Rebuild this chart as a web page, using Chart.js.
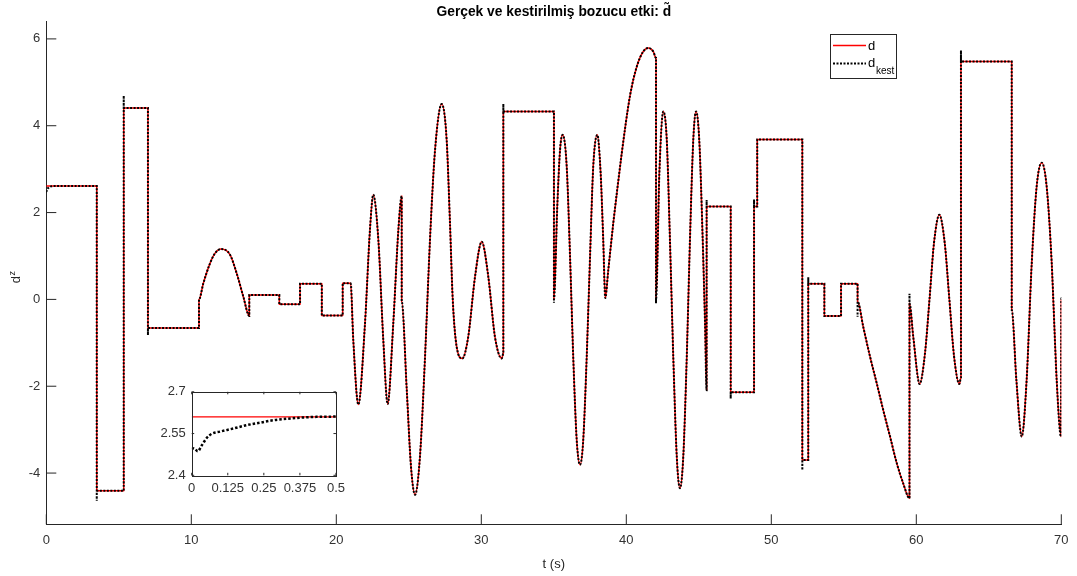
<!DOCTYPE html>
<html>
<head>
<meta charset="utf-8">
<script src="https://cdn.jsdelivr.net/npm/chart.js@4.4.1/dist/chart.umd.min.js"></script>
<style>
  body { margin: 0; background: #fff; }
  #wrap { position: relative; width: 1077px; height: 576px; }
  #main { position: absolute; left: 0; top: 0; }
  #inset { position: absolute; left: 150px; top: 378px; }
</style>
</head>
<body>
<div id="wrap">
  <canvas id="main" width="1077" height="576"></canvas>
  <canvas id="inset" width="200" height="125"></canvas>
</div>
<script>
// true disturbance d (time in s)
const tVals = [
  0, 3.48, 3.48, 5.34, 5.34, 7.01, 7.01, 10.53, 10.53,
  10.83, 11.29, 11.63, 12.05, 12.67, 13.13, 13.59, 14.0, 14.0,
  16.07, 16.07, 17.5, 17.5, 19.0, 19.0, 20.44, 20.44, 20.99,
  21.17, 21.52, 21.98, 22.32, 22.55, 22.9, 23.24, 23.54, 23.93, 24.28, 24.51,
  24.51, 24.86, 25.15, 25.43, 25.77, 26.12, 26.46, 26.81, 27.27, 27.61, 27.84,
  28.03, 28.3, 28.69, 29.1, 29.57, 30.03, 30.48, 30.94, 31.41, 31.52, 31.52,
  35.01, 35.01, 35.24, 35.43, 35.61, 35.89, 36.12, 36.34, 36.58, 36.81, 37.03,
  37.27, 37.5, 37.72, 38.0, 38.23, 38.41, 38.55, 38.75, 39.1, 39.68, 40.26, 40.72,
  41.17, 41.52, 41.86, 42.05, 42.05, 42.28, 42.55, 42.79, 43.01, 43.24, 43.48,
  43.7, 43.93, 44.17, 44.39, 44.62, 44.81, 45.03, 45.27, 45.43, 45.54, 45.54,
  47.2, 47.2, 48.81, 48.81, 49.03, 49.03, 52.14, 52.14, 52.55, 52.55,
  53.66, 53.66, 54.81, 54.81, 55.95, 55.95, 56.34, 56.81, 57.27, 57.72,
  58.19, 58.65, 59.1, 59.53, 59.53, 59.79, 60.23, 60.6, 60.91, 61.22, 61.59,
  61.96, 62.28, 62.6, 62.97, 63.08, 63.08, 66.58, 66.58, 66.9, 67.27, 67.61,
  67.96, 68.3, 68.65, 68.99, 69.34, 69.68, 69.98, 70
];
const dVals = [
  2.61, 2.61, -4.41, -4.41, 4.41, 4.41, -0.66, -0.66, 0,
  0.37, 0.83, 1.06, 1.16, 1.03, 0.6, 0.06, -0.38, 0.1,
  0.1, -0.11, -0.11, 0.36, 0.36, -0.37, -0.37, 0.37, 0.37,
  -0.93, -2.42, -0.55, 1.6, 2.41, 1.37, -0.93, -2.41, -0.55, 1.6, 2.38,
  -0.05, -2.09, -3.85, -4.5, -3.62, -1.32, 1.37, 3.44, 4.5, 3.68, 1.76,
  0, -1.09, -1.36, -0.86, 0.53, 1.33, 0.53, -0.86, -1.36, -1.25, 4.33,
  4.33, 0, 2.14, 3.44, 3.79, 3.06, 0.99, -1.32, -3.24, -3.81, -3.24,
  -1.32, 0.99, 3.06, 3.79, 2.91, 1.37, 0.03, 0.65, 1.75, 3.35, 4.7, 5.36,
  5.71, 5.79, 5.71, 5.56, 0, 2.91, 4.33, 3.68, 1.37, -1.32, -3.62,
  -4.35, -3.62, -1.32, 1.37, 3.68, 4.33, 3.68, 1.37, -0.55, -2.09, 2.14,
  2.14, -2.14, -2.14, 2.14, 2.14, 3.68, 3.68, -3.7, -3.7, 0.36,
  0.36, -0.38, -0.38, 0.36, 0.36, -0.05, -0.63, -1.32, -1.93, -2.55,
  -3.16, -3.77, -4.24, -4.58, -0.09, -0.86, -1.95, -1.24, 0, 1.3, 1.95,
  1.3, 0, -1.3, -1.95, -1.8, 5.48, 5.48, -0.24, -1.85, -3.16, -1.85,
  0.83, 2.6, 3.15, 2.6, 0.83, -1.85, -3.16, 0
];

// estimator overshoot at the jumps
const spikeT = [3.48, 5.34, 7.01, 31.52, 35.01, 42.05, 45.54, 47.2, 48.81, 52.14, 52.55, 55.95, 59.53, 63.08, 70];
const spikeV = [-4.64, 4.69, -0.82, 4.5, -0.08, -0.09, 2.29, -2.28, 2.3, -3.93, 0.51, -0.4, 0.13, 5.73, 0.03];

// start-up transient of the estimate (zoomed box)
const zoomT = [0, 0.0115, 0.0208, 0.0346, 0.052, 0.0693, 0.098, 0.144, 0.19, 0.237, 0.283, 0.329, 0.375, 0.433, 0.5];
const zoomEst = [2.498, 2.495, 2.486, 2.507, 2.534, 2.549, 2.557, 2.568, 2.58, 2.589, 2.598, 2.603, 2.607, 2.61, 2.611];
const zoomTrueT = [0, 0.5];
const zoomTrue = [2.61, 2.61];

const xTicks = [0, 10, 20, 30, 40, 50, 60, 70];
const yTicks = [-4, -2, 0, 2, 4, 6];
const zoomXTicks = [0, 0.125, 0.25, 0.375, 0.5];
const zoomYTicks = [2.4, 2.55, 2.7];

const FONT = "'Liberation Sans', Arial, Helvetica, sans-serif";
const AXIS = '#262626';

const dPts = tVals.map((t, i) => ({x: t, y: dVals[i]}));
const estPts = zoomT.map((t, i) => ({x: t, y: zoomEst[i]}))
  .concat(dPts.filter(p => p.x > 0.5).map(p => ({x: p.x, y: p.y})));
spikeT.forEach((t, k) => {
  let j = -1;
  estPts.forEach((p, i) => { if (p.x === t) j = i; });
  if (j >= 0) estPts.splice(j, 0, {x: t, y: spikeV[k]});
});

const setTicks = arr => s => { s.ticks = arr.map(v => ({value: v})); };

// MATLAB style inward ticks (+ optional full box)
const boxTicks = {
  id: 'boxTicks',
  beforeDraw(chart, args, opts) {
    if (!opts.fill) return;
    const {ctx, chartArea: a} = chart;
    ctx.save();
    ctx.fillStyle = '#fff';
    ctx.fillRect(a.left, a.top, a.right - a.left, a.bottom - a.top);
    ctx.restore();
  },
  beforeDatasetsDraw(chart, args, opts) {
    const {ctx, chartArea: a, scales} = chart;
    const len = opts.len;
    ctx.save();
    ctx.strokeStyle = AXIS;
    ctx.lineWidth = 1;
    ctx.beginPath();
    scales.x.ticks.forEach(t => {
      const px = scales.x.getPixelForValue(t.value);
      ctx.moveTo(px, a.bottom); ctx.lineTo(px, a.bottom - len);
      if (opts.box) { ctx.moveTo(px, a.top); ctx.lineTo(px, a.top + len); }
    });
    scales.y.ticks.forEach(t => {
      const py = scales.y.getPixelForValue(t.value);
      ctx.moveTo(a.left, py); ctx.lineTo(a.left + len, py);
      if (opts.box) { ctx.moveTo(a.right, py); ctx.lineTo(a.right - len, py); }
    });
    ctx.stroke();
    ctx.restore();
  },
  afterDraw(chart, args, opts) {
    if (!opts.box) return;
    const {ctx, chartArea: a} = chart;
    ctx.save();
    ctx.strokeStyle = AXIS;
    ctx.lineWidth = 1;
    ctx.strokeRect(Math.round(a.left) + 0.5, Math.round(a.top) + 0.5,
      Math.round(a.right - a.left), Math.round(a.bottom - a.top));
    ctx.restore();
  }
};

// y label d^z and the legend box
const extras = {
  id: 'extras',
  afterDraw(chart) {
    const {ctx, chartArea: a} = chart;
    ctx.save();
    ctx.fillStyle = AXIS;
    ctx.translate(20, (a.top + a.bottom) / 2 + 10);
    ctx.rotate(-Math.PI / 2);
    ctx.font = '13px ' + FONT;
    ctx.textBaseline = 'alphabetic';
    ctx.fillText('d', 0, 0);
    const w = ctx.measureText('d').width;
    ctx.font = '9px ' + FONT;
    ctx.fillText('z', w + 0.5, -5);
    ctx.restore();

    // legend
    const lx = 830, ly = 34;
    ctx.save();
    ctx.fillStyle = '#fff';
    ctx.fillRect(lx, ly, 67, 44);
    ctx.strokeStyle = AXIS;
    ctx.lineWidth = 1;
    ctx.strokeRect(lx + 0.5, ly + 0.5, 66, 44);
    ctx.strokeStyle = '#ff0000';
    ctx.lineWidth = 1.5;
    ctx.beginPath(); ctx.moveTo(lx + 3, ly + 11.5); ctx.lineTo(lx + 36, ly + 11.5); ctx.stroke();
    ctx.strokeStyle = '#000';
    ctx.lineWidth = 2;
    ctx.setLineDash([2, 1.5]);
    ctx.beginPath(); ctx.moveTo(lx + 3, ly + 29.5); ctx.lineTo(lx + 36, ly + 29.5); ctx.stroke();
    ctx.setLineDash([]);
    ctx.fillStyle = '#000';
    ctx.textBaseline = 'alphabetic';
    ctx.font = '13px ' + FONT;
    ctx.fillText('d', lx + 38, ly + 16);
    ctx.fillText('d', lx + 38, ly + 33);
    ctx.font = '10px ' + FONT;
    ctx.fillText('kest', lx + 46, ly + 40);
    ctx.restore();
  }
};

new Chart(document.getElementById('main'), {
  type: 'line',
  data: {
    datasets: [
      {label: 'dkest', data: estPts, borderColor: '#000', borderWidth: 2, borderDash: [2, 1.5],
        pointRadius: 0, cubicInterpolationMode: 'monotone', order: 0},
      {label: 'd', data: dPts, borderColor: '#ff0000', borderWidth: 1.5, borderJoinStyle: 'round',
        pointRadius: 0, cubicInterpolationMode: 'monotone', order: 1}
    ]
  },
  options: {
    responsive: false,
    animation: false,
    events: [],
    layout: {padding: {left: 0, right: 15.7, top: 0, bottom: 0}},
    plugins: {
      legend: {display: false},
      tooltip: {enabled: false},
      title: {
        display: true, fullSize: false,
        text: 'Gerçek ve kestirilmiş bozucu etki: d\u0303',
        color: '#000', font: {family: FONT, size: 13.8, weight: 'bold', lineHeight: 1.2},
        padding: {top: 3.5, bottom: 1.9}
      },
      boxTicks: {len: 10, box: false, fill: false}
    },
    scales: {
      x: {
        type: 'linear', min: 0, max: 70,
        afterBuildTicks: setTicks(xTicks),
        afterFit: s => { s.height = 51.7; },
        grid: {display: false, drawTicks: false},
        border: {color: AXIS, width: 1},
        ticks: {color: '#333', font: {family: FONT, size: 13}, padding: 8, maxRotation: 0, autoSkip: false,
          callback: v => String(v)},
        title: {display: true, text: 't (s)', color: AXIS, font: {family: FONT, size: 13},
          padding: {top: 0, bottom: 4}}
      },
      y: {
        type: 'linear', min: -5.18, max: 6.39,
        afterBuildTicks: setTicks(yTicks),
        afterFit: s => { s.width = 46.3; },
        grid: {display: false, drawTicks: false},
        border: {color: AXIS, width: 1},
        ticks: {color: '#333', font: {family: FONT, size: 13}, padding: 6, autoSkip: false,
          callback: v => String(v)}
      }
    }
  },
  plugins: [boxTicks, extras]
});

new Chart(document.getElementById('inset'), {
  type: 'line',
  data: {
    datasets: [
      {label: 'dkest', data: zoomT.map((t, i) => ({x: t, y: zoomEst[i]})), borderColor: '#000',
        borderWidth: 2.5, borderDash: [2.5, 2], pointRadius: 0, cubicInterpolationMode: 'monotone', order: 0},
      {label: 'd', data: zoomTrueT.map((t, i) => ({x: t, y: zoomTrue[i]})), borderColor: '#ff0000',
        borderWidth: 1.3, pointRadius: 0, order: 1}
    ]
  },
  options: {
    responsive: false,
    animation: false,
    events: [],
    layout: {padding: {left: 0, right: 14, top: 9.3, bottom: 0}},
    plugins: {
      legend: {display: false},
      tooltip: {enabled: false},
      boxTicks: {len: 2.5, box: true, fill: true}
    },
    scales: {
      x: {
        type: 'linear', min: 0, max: 0.5,
        afterBuildTicks: setTicks(zoomXTicks),
        afterFit: s => { s.height = 27.7; },
        grid: {display: false, drawTicks: false},
        border: {display: false},
        ticks: {color: '#333', font: {family: FONT, size: 13}, padding: 5, maxRotation: 0, autoSkip: false,
          callback: v => String(v)}
      },
      y: {
        type: 'linear', min: 2.4, max: 2.7,
        afterBuildTicks: setTicks(zoomYTicks),
        afterFit: s => { s.width = 41.7; },
        grid: {display: false, drawTicks: false},
        border: {display: false},
        ticks: {color: '#333', font: {family: FONT, size: 13}, padding: 6, autoSkip: false,
          callback: v => String(v)}
      }
    }
  },
  plugins: [boxTicks]
});
</script>
</body>
</html>
